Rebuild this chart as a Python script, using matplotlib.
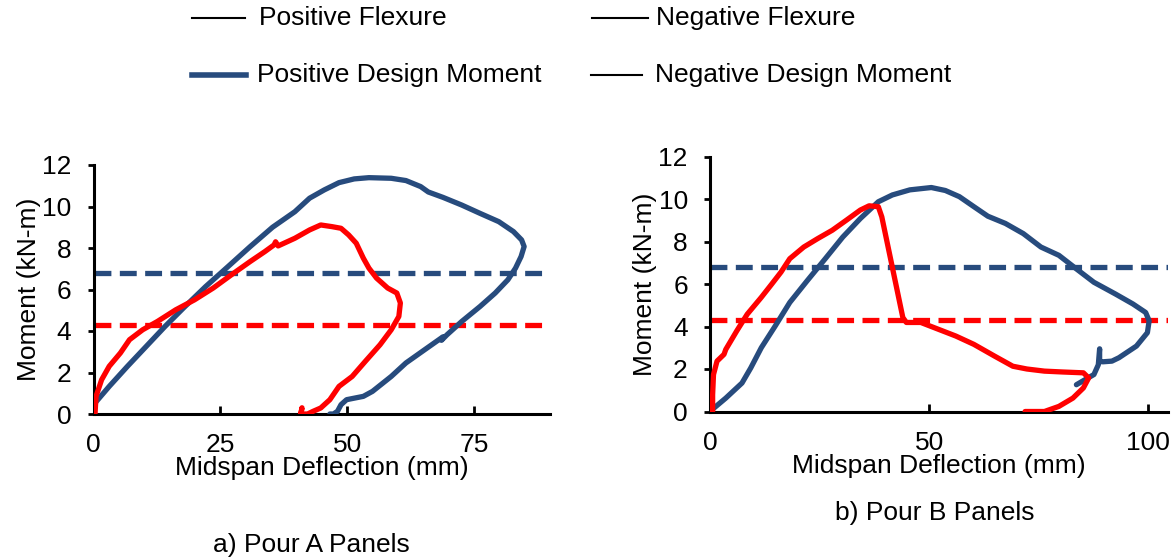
import matplotlib
matplotlib.use("Agg")
import matplotlib.pyplot as plt
from matplotlib.lines import Line2D

plt.rcParams['font.family'] = ['Liberation Sans', 'DejaVu Sans']

BLUE = "#274B7D"
RED = "#FF0000"

# Panel a (Pour A)
a_pos_x = [0.0, 0.3, 3.1, 6.7, 10.4, 14.1, 17.7, 22.1, 26.5, 30.9, 35.3, 39.7, 42.6, 45.5,
           48.4, 51.4, 54.3, 58.7, 61.6, 64.5, 66.0, 68.9, 72.6, 76.2, 79.9, 82.8, 84.4,
           84.9, 84.3, 83.2, 81.7, 79.2, 76.2, 72.6, 69.7, 68.6, 68.9, 65.3, 61.6, 58.7,
           55.0, 53.2, 49.9, 48.8, 48.1, 47.3, 46.6]
a_pos_y = [0.0, 0.53, 1.33, 2.3, 3.26, 4.22, 5.1, 6.14, 7.1, 8.07, 9.0, 9.75, 10.4, 10.8,
           11.15, 11.33, 11.39, 11.36, 11.25, 10.96, 10.7, 10.44, 10.07, 9.67, 9.27, 8.79,
           8.39, 8.07, 7.59, 7.03, 6.47, 5.83, 5.18, 4.46, 3.82, 3.55, 3.72, 3.1, 2.46, 1.81,
           1.09, 0.85, 0.69, 0.45, 0.13, 0.0, 0.0]
a_neg_x = [0.3, 0.5, 1.6, 3.1, 5.3, 7.1, 9.7, 12.6, 16.2, 19.9, 23.6, 27.2, 30.9, 33.8,
           35.6, 35.9, 36.4, 39.7, 42.6, 44.8, 47.0, 48.8, 50.3, 51.8, 53.2, 54.3, 55.8,
           58.0, 59.8, 60.5, 60.2, 58.7, 56.5, 53.6, 51.0, 48.4, 46.6, 44.8, 43.3, 42.2,
           40.9, 41.1, 40.9]
a_neg_y = [0.0, 0.85, 1.65, 2.3, 2.94, 3.58, 4.06, 4.46, 5.02, 5.5, 6.07, 6.71, 7.35, 7.83,
           8.15, 8.3, 8.1, 8.47, 8.87, 9.11, 9.03, 8.95, 8.63, 8.23, 7.51, 7.03, 6.55,
           6.07, 5.83, 5.35, 4.7, 4.06, 3.34, 2.54, 1.81, 1.33, 0.69, 0.29, 0.13, 0.0,
           0.0, 0.3, 0.05]

# Panel b (Pour B)
b_pos_x = [0.0, 0.6, 3.6, 7.3, 9.3, 11.7, 14.9, 18.2, 22.2, 26.3, 30.3, 34.3, 38.4, 41.6,
           45.6, 50.5, 53.7, 56.9, 60.2, 63.4, 67.4, 71.5, 75.5, 79.6, 83.6, 87.6, 92.5,
           96.5, 99.4, 100.2, 99.8, 97.3, 93.3, 91.7, 89.7, 88.9, 88.9, 88.6, 87.6, 86.0,
           83.6]
b_pos_y = [0.0, 0.11, 0.63, 1.34, 2.05, 3.0, 4.03, 5.13, 6.16, 7.19, 8.21, 9.08, 9.87, 10.19,
           10.43, 10.54, 10.4, 10.11, 9.64, 9.19, 8.85, 8.37, 7.74, 7.35, 6.71, 6.08, 5.53,
           5.06, 4.66, 4.27, 3.71, 3.08, 2.53, 2.37, 2.34, 2.35, 2.95, 2.2, 1.74, 1.55,
           1.26]
b_neg_x = [0.6, 0.6, 0.8, 1.6, 3.2, 3.6, 6.1, 8.5, 11.7, 14.1, 16.2, 18.2, 21.4, 24.6,
           27.9, 31.1, 34.3, 36.3, 38.4, 39.2, 41.6, 44.0, 44.8, 48.1, 52.1, 56.1, 60.2,
           64.9, 69.1, 72.3, 76.3, 80.4, 85.2, 86.4, 85.2, 82.8, 79.6, 76.3, 71.9]
b_neg_y = [0.0, 0.79, 1.74, 2.37, 2.69, 2.92, 3.79, 4.58, 5.37, 6.0, 6.56, 7.19, 7.74, 8.14,
           8.53, 9.0, 9.48, 9.68, 9.64, 9.16, 6.79, 4.42, 4.19, 4.19, 3.87, 3.55, 3.16,
           2.61, 2.13, 2.0, 1.9, 1.86, 1.82, 1.58, 1.11, 0.63, 0.24, 0.0, 0.0]

pos_design = 6.8
neg_design = 4.3

y_ticks = [0, 2, 4, 6, 8, 10, 12]
a_xticks = [0, 25, 50, 75]
b_xticks = [0, 50, 100]

FS = 19

fig = plt.figure(figsize=(11.75, 5.58), dpi=100)
W, H = 1175, 558

def make_ax(l, r, b, t):
    return fig.add_axes([l / W, 1 - b / H, (r - l) / W, (b - t) / H])

ax_a = make_ax(93.5, 550, 414, 165)
ax_b = make_ax(710, 1168, 411.5, 156.5)

panels = [
    (ax_a, a_pos_x, a_pos_y, a_neg_x, a_neg_y, a_xticks, 90),
    (ax_b, b_pos_x, b_pos_y, b_neg_x, b_neg_y, b_xticks, 104.5),
]
for ax, px, py, nx, ny, xt, xmax in panels:
    ax.axhline(pos_design, color=BLUE, lw=3.8, ls=(0, (3.2, 1.6)), zorder=2)
    ax.axhline(neg_design, color=RED, lw=3.8, ls=(0, (3.2, 1.6)), zorder=2)
    ax.plot(px, py, color=BLUE, lw=3.8, solid_capstyle='round', solid_joinstyle='round', zorder=3)
    ax.plot(nx, ny, color=RED, lw=3.8, solid_capstyle='round', solid_joinstyle='round', zorder=4)
    ax.set_xlim(0, xmax)
    ax.set_ylim(0, 12)
    ax.set_xticks(xt)
    ax.set_yticks(y_ticks)
    for s in ['top', 'right']:
        ax.spines[s].set_visible(False)
    for s in ['left', 'bottom']:
        ax.spines[s].set_linewidth(2.2)
        ax.spines[s].set_color('black')
    ax.tick_params(axis='x', direction='in', length=6, width=2, labelsize=FS, pad=14)
    ax.tick_params(axis='y', direction='out', length=4, width=2, labelsize=FS, pad=12)
    ax.set_xlabel("Midspan Deflection (mm)", fontsize=FS, labelpad=-1)
    ax.set_ylabel("Moment (kN-m)", fontsize=FS, labelpad=1)
    ax.patch.set_alpha(0)

fig.text(311 / W, 1 - 545 / H, "a) Pour A Panels", fontsize=FS, ha='center', va='center')
fig.text(935 / W, 1 - 513 / H, "b) Pour B Panels", fontsize=FS, ha='center', va='center')

# legend
leg_items = [
    (192, 245, 18, 'black', 1.5, 259, "Positive Flexure"),
    (592, 648, 18, 'black', 1.5, 656, "Negative Flexure"),
    (192, 246, 75, BLUE, 4.0, 257, "Positive Design Moment"),
    (591, 642, 75, 'black', 1.5, 655, "Negative Design Moment"),
]
for x0, x1, yy, c, lw, tx, label in leg_items:
    fig.add_artist(Line2D([x0 / W, x1 / W], [1 - yy / H, 1 - yy / H],
                          transform=fig.transFigure, color=c, lw=lw))
    fig.text(tx / W, 1 - yy / H, label, fontsize=FS, ha='left', va='center')

fig.savefig("out.png", dpi=100)
